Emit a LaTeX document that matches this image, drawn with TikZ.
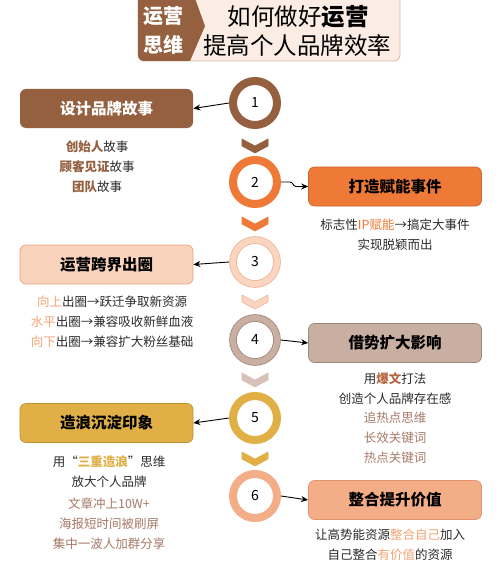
\documentclass[tikz,border=0pt]{standalone}
\usepackage{fontspec}
\setmainfont{Noto Sans CJK SC}
\usetikzlibrary{arrows.meta}
\definecolor{cbrown}{HTML}{94603F}
\definecolor{corange}{HTML}{EF7A37}
\definecolor{cpeach}{HTML}{FAD3BD}
\definecolor{cpeachline}{HTML}{E6A384}
\definecolor{cring3}{HTML}{FBD5C0}
\definecolor{cring3line}{HTML}{EBB394}
\definecolor{ctaupe}{HTML}{C9AEA2}
\definecolor{ctaupeline}{HTML}{A0867A}
\definecolor{cgold}{HTML}{E0B047}
\definecolor{cgoldline}{HTML}{BE9333}
\definecolor{csalmon}{HTML}{F3AD87}
\definecolor{csalmonline}{HTML}{E09570}
\definecolor{chlpeach}{HTML}{F3A574}
\definecolor{ctext}{HTML}{2B2B2B}
\definecolor{cbrowntext}{HTML}{A57A68}
\definecolor{chdrbg}{HTML}{FCEDE4}
\definecolor{chdrline}{HTML}{D8B8A5}
\definecolor{cboom}{HTML}{B5653F}
\newcommand\mychev[3]{%
  \filldraw[fill=#2,draw=#3,line width=0.6] (242,#1-7) -- (255,#1) -- (268,#1-7) -- (268,#1) -- (255,#1+7) -- (242,#1) -- cycle;}
\begin{document}
\begin{tikzpicture}[x=1pt,y=-1pt,
  ring/.style={circle, minimum size=44, inner sep=0, outer sep=4, line width=8, fill=white, text=black, font=\fontsize{14}{14}\selectfont},
  ringb/.style={circle, minimum size=44, inner sep=0, outer sep=4, line width=0.8, double distance=6, fill=white, text=black, font=\fontsize{14}{14}\selectfont},
  tbox/.style={rounded corners=6, minimum width=173, minimum height=39, inner sep=0, line width=0.7, font=\bfseries\fontsize{15.5}{16}\selectfont},
  sub/.style={align=center, inner sep=0, text=ctext, font=\fontsize{12.5}{19.8}\selectfont},
  arr/.style={-{Stealth[length=7,width=6]}, line width=0.9, black}]
\useasboundingbox (0,0) rectangle (500,567);
\fill[white] (0,0) rectangle (500,567);
% header
\filldraw[fill=chdrbg, draw=chdrline, line width=0.8, rounded corners=6] (138,-10) rectangle (400,61);
\fill[cbrown] (138,-10) -- (192,-10) -- (205,26) -- (190,61) [rounded corners=6] -- (138,61) [sharp corners] -- cycle;
\node[text=white, font=\bfseries\fontsize{20}{20}\selectfont, inner sep=0] (h1) at (163,16) {运营};
\node[text=white, font=\bfseries\fontsize{20}{20}\selectfont, inner sep=0] (h2) at (163,44.5) {思维};
\node[text=black, font=\fontsize{23.5}{24}\selectfont, inner sep=0] (h3) at (298,16.5) {如何做好\textbf{运营}};
\node[text=black, font=\fontsize{23.5}{24}\selectfont, inner sep=0] (h4) at (297,45.5) {提高个人品牌效率};
% chevrons
\mychev{146}{cbrown}{cbrown}
\mychev{224}{corange}{corange}
\mychev{302}{cring3}{cring3line}
\mychev{380}{ctaupe!75!white}{ctaupe!75!white}
\mychev{459}{cgold}{cgold}
% circles
\node[ring, draw=cbrown] (c1) at (255,103) {1};
\node[ring, draw=corange] (c2) at (255,182) {2};
\node[ringb, draw=cring3line, double=cring3] (c3) at (255,262) {3};
\node[ringb, draw=ctaupeline, double=ctaupe] (c4) at (255,340) {4};
\node[ring, draw=cgold] (c5) at (255,418) {5};
\node[ring, draw=csalmon] (c6) at (255,496) {6};
% boxes
\node[tbox, fill=cbrown, text=white] (b1) at (106.5,108.5) {设计品牌故事};
\node[tbox, fill=corange, draw=corange!85!black, text=black] (b2) at (395,186.5) {打造赋能事件};
\node[tbox, fill=cpeach, draw=cpeachline, text=black] (b3) at (106.5,264.5) {运营跨界出圈};
\node[tbox, fill=ctaupe, draw=ctaupeline, text=black] (b4) at (395,343) {借势扩大影响};
\node[tbox, fill=cgold, draw=cgoldline, text=black] (b5) at (106.5,423) {造浪沉淀印象};
\node[tbox, fill=csalmon, draw=csalmonline, text=black] (b6) at (395,500) {整合提升价值};
% connectors
\draw[arr] (c1.west) -- (b1.east);
\draw[arr] (c2.east) -- ++(9,0) to[out=0,in=180] ++(6,4.5) -- (b2.west);
\draw[arr] (c3.west) -- (b3.east);
\draw[arr] (c4.east) -- (b4.west);
\draw[arr] (c5.west) -- (b5.east);
\draw[arr] (c6.east) -- (b6.west);
% texts
\node[sub] (t1) at (97,166.5) {\textcolor{cbrown}{\textbf{创始人}}故事\\\textcolor{cbrown}{\textbf{顾客见证}}故事\\\textcolor{cbrown}{\textbf{团队}}故事};
\node[sub] (t2) at (395,235) {标志性\textcolor{corange}{IP赋能}→搞定大事件\\实现脱颖而出};
\node[sub] (t3) at (112,321.5) {\textcolor{chlpeach}{向上}出圈→跃迁争取新资源\\\textcolor{chlpeach}{水平}出圈→兼容吸收新鲜血液\\\textcolor{chlpeach}{向下}出圈→兼容扩大粉丝基础};
\node[sub] (t4) at (395,418) {用\textcolor{cboom}{\textbf{爆文}}打法\\创造个人品牌存在感\\\textcolor{cbrowntext}{追热点思维}\\\textcolor{cbrowntext}{长效关键词}\\\textcolor{cbrowntext}{热点关键词}};
\node[sub] (t5) at (109,502.5) {用“\textcolor{cgold}{\textbf{三重造浪}}”思维\\放大个人品牌\\[3pt]\textcolor{cbrowntext}{文章冲上10W+}\\\textcolor{cbrowntext}{海报短时间被刷屏}\\\textcolor{cbrowntext}{集中一波人加群分享}};
\node[sub] (t6) at (390,545) {让高势能资源\textcolor{chlpeach}{整合自己}加入\\自己整合\textcolor{chlpeach}{有价值}的资源};
\end{tikzpicture}
\end{document}
